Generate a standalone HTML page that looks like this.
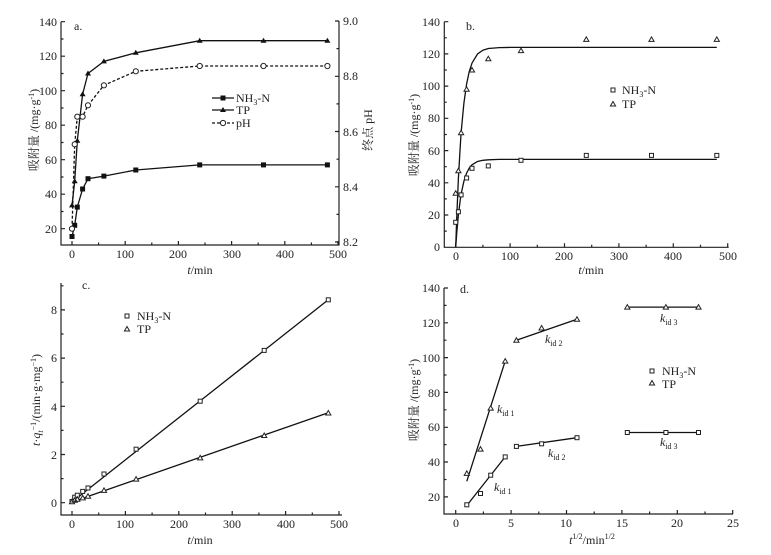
<!DOCTYPE html>
<html><head><meta charset="utf-8"><style>
html,body{margin:0;padding:0;background:#fff}
svg{display:block}
text{font-family:"Liberation Serif","Noto Serif CJK SC",serif;font-size:12px;fill:#222}
.ax{stroke:#222;stroke-width:1.2;fill:none}
.ln{stroke:#111;stroke-width:1.3;fill:none}
.o{fill:#fff;stroke:#222;stroke-width:1}
</style></head><body>
<svg width="771" height="555" viewBox="0 0 771 555" xmlns="http://www.w3.org/2000/svg">
<!-- Panel a -->
<path class="ax" d="M61,21.7V245H339V21"/>
<path class="ax" d="M61,21.7h4M61,56.2h4M61,90.7h4M61,125.2h4M61,159.7h4M61,194.2h4M61,228.7h4M61,39h2.5M61,73.5h2.5M61,108h2.5M61,142.5h2.5M61,177h2.5M61,211.5h2.5
M72,245v-4M125.2,245v-4M178.4,245v-4M231.6,245v-4M284.8,245v-4M338,245v-4M98.6,245v-2.5M151.8,245v-2.5M205,245v-2.5M258.2,245v-2.5M311.4,245v-2.5
M339,21h-4M339,76.3h-4M339,131.5h-4M339,186.8h-4M339,242h-4M339,48.6h-2.5M339,103.9h-2.5M339,159.2h-2.5M339,214.4h-2.5"/>
<g text-anchor="end"><text x="57" y="26">140</text><text x="57" y="60">120</text><text x="57" y="95">100</text><text x="57" y="129">80</text><text x="57" y="164">60</text><text x="57" y="198">40</text><text x="57" y="233">20</text></g>
<g><text x="343" y="25">9.0</text><text x="343" y="80">8.8</text><text x="343" y="136">8.6</text><text x="343" y="191">8.4</text><text x="343" y="246">8.2</text></g>
<g text-anchor="middle"><text x="72" y="258">0</text><text x="125" y="258">100</text><text x="178" y="258">200</text><text x="232" y="258">300</text><text x="285" y="258">400</text><text x="338" y="258">500</text>
<text x="200" y="274"><tspan font-style="italic">t</tspan>/min</text></g>
<text x="74" y="30">a.</text>
<text transform="translate(38,130) rotate(-90)" text-anchor="middle">吸附量 /(mg·g<tspan dy="-4" font-size="8">-1</tspan><tspan dy="4">)</tspan></text>
<text transform="translate(372,130) rotate(-90)" text-anchor="middle">终点 pH</text>
<polyline class="ln" stroke-dasharray="3,2" points="72,228.7 74.7,144.3 77.3,116.7 82.6,116.7 88,105.3 103.9,85.3 135.8,71.3 199.7,66 263.5,66 327.4,66"/>
<polyline class="ln" points="72,236.5 74.7,225.3 77.3,207.1 82.6,189 88,178.7 103.9,176.1 135.8,170 199.7,164.9 263.5,164.9 327.4,164.9"/>
<polyline class="ln" points="72,205.4 74.7,181.3 77.3,140.7 82.6,94.2 88,73.5 103.9,61.4 135.8,52.8 199.7,40.7 263.5,40.7 327.4,40.7"/>
<g fill="#111">
<rect x="69.5" y="234" width="5" height="5"/><rect x="72.2" y="222.8" width="5" height="5"/><rect x="74.8" y="204.6" width="5" height="5"/><rect x="80.1" y="186.5" width="5" height="5"/><rect x="85.5" y="176.2" width="5" height="5"/><rect x="101.4" y="173.6" width="5" height="5"/><rect x="133.3" y="167.5" width="5" height="5"/><rect x="197.2" y="162.4" width="5" height="5"/><rect x="261" y="162.4" width="5" height="5"/><rect x="324.9" y="162.4" width="5" height="5"/>
<path d="M72,202.4l3,5h-6zM74.7,178.3l3,5h-6zM77.3,137.7l3,5h-6zM82.6,91.2l3,5h-6zM88,70.5l3,5h-6zM103.9,58.4l3,5h-6zM135.8,49.8l3,5h-6zM199.7,37.7l3,5h-6zM263.5,37.7l3,5h-6zM327.4,37.7l3,5h-6z"/>
</g>
<g class="o"><circle cx="72" cy="228.7" r="2.6"/><circle cx="74.7" cy="144.3" r="2.6"/><circle cx="77.3" cy="116.7" r="2.6"/><circle cx="82.6" cy="116.7" r="2.6"/><circle cx="88" cy="105.3" r="2.6"/><circle cx="103.9" cy="85.3" r="2.6"/><circle cx="135.8" cy="71.3" r="2.6"/><circle cx="199.7" cy="66" r="2.6"/><circle cx="263.5" cy="66" r="2.6"/><circle cx="327.4" cy="66" r="2.6"/></g>
<path class="ln" d="M212,98h22M212,110h22"/><path class="ln" stroke-dasharray="3,2" d="M212,123h22"/>
<rect x="220.5" y="95.5" width="5" height="5" fill="#111"/><path d="M223,107l3,5h-6z" fill="#111"/><circle class="o" cx="223" cy="123" r="2.6"/>
<text x="236" y="102">NH<tspan font-size="8" dy="3">3</tspan><tspan dy="-3">-N</tspan></text><text x="236" y="114">TP</text><text x="236" y="127">pH</text>

<!-- Panel b -->
<path class="ax" d="M444.3,21.7V247.3H728.7"/>
<path class="ax" d="M444.3,21.7h4M444.3,53.9h4M444.3,86.1h4M444.3,118.3h4M444.3,150.6h4M444.3,182.8h4M444.3,215h4M444.3,37.8h2.5M444.3,70h2.5M444.3,102.2h2.5M444.3,134.5h2.5M444.3,166.7h2.5M444.3,198.9h2.5M444.3,231.1h2.5
M455.7,247.3v-4M510.1,247.3v-4M564.5,247.3v-4M618.9,247.3v-4M673.3,247.3v-4M727.7,247.3v-4M482.9,247.3v-2.5M537.3,247.3v-2.5M591.7,247.3v-2.5M646.1,247.3v-2.5M700.5,247.3v-2.5"/>
<g text-anchor="end"><text x="440" y="26">140</text><text x="440" y="58">120</text><text x="440" y="90">100</text><text x="440" y="122">80</text><text x="440" y="155">60</text><text x="440" y="187">40</text><text x="440" y="219">20</text><text x="440" y="251">0</text></g>
<g text-anchor="middle"><text x="456" y="260">0</text><text x="510" y="260">100</text><text x="564" y="260">200</text><text x="619" y="260">300</text><text x="673" y="260">400</text><text x="728" y="260">500</text>
<text x="591" y="274"><tspan font-style="italic">t</tspan>/min</text></g>
<text x="466" y="30">b.</text>
<text transform="translate(418,135) rotate(-90)" text-anchor="middle">吸附量 /(mg·g<tspan dy="-4" font-size="8">-1</tspan><tspan dy="4">)</tspan></text>
<polyline class="ln" points="455.7,247.3 456.8,216 458.4,178.1 460.1,148.8 461.1,132.7 463.9,103.2 466.6,84 469.3,71.3 472,63.1 477.5,54 482.9,50.2 488.3,48.5 499.2,47.6 510.1,47.4 716.8,47.4"/>
<polyline class="ln" points="455.7,247.3 456.8,232.3 458.4,214.6 460.1,201.2 461.1,194.1 463.9,181.2 466.6,173.1 469.3,168 472,164.8 477.5,161.5 482.9,160.3 488.3,159.8 499.2,159.4 716.8,159.4"/>
<g class="o">
<rect x="453.7" y="220.3" width="4" height="4"/><rect x="456.4" y="209.8" width="4" height="4"/><rect x="459.1" y="192.9" width="4" height="4"/><rect x="464.6" y="176" width="4" height="4"/><rect x="470" y="166.3" width="4" height="4"/><rect x="486.3" y="163.9" width="4" height="4"/><rect x="519" y="158.3" width="4" height="4"/><rect x="584.3" y="153.4" width="4" height="4"/><rect x="649.5" y="153.4" width="4" height="4"/><rect x="714.8" y="153.4" width="4" height="4"/>
<path d="M455.7,190.8l2.6,4.5h-5.2zM458.4,168.2l2.6,4.5h-5.2zM461.1,130.3l2.6,4.5h-5.2zM466.6,86.8l2.6,4.5h-5.2zM472,67.5l2.6,4.5h-5.2zM488.3,56.2l2.6,4.5h-5.2zM521,48.1l2.6,4.5h-5.2zM586.3,36.9l2.6,4.5h-5.2zM651.5,36.9l2.6,4.5h-5.2zM716.8,36.9l2.6,4.5h-5.2z"/>
<rect x="611" y="88" width="4" height="4"/><path d="M613,101.5l2.6,4.5h-5.2z"/>
</g>
<text x="622" y="94">NH<tspan font-size="8" dy="3">3</tspan><tspan dy="-3">-N</tspan></text><text x="622" y="108">TP</text>

<!-- Panel c -->
<path class="ax" d="M61,283V515H342"/>
<path class="ax" d="M61,502.7h4M61,454.5h4M61,406.3h4M61,358.1h4M61,309.9h4M61,478.6h2.5M61,430.4h2.5M61,382.2h2.5M61,334h2.5M61,285.8h2.5
M72,515v-4M125.4,515v-4M178.8,515v-4M232.2,515v-4M285.6,515v-4M339,515v-4M98.7,515v-2.5M152.1,515v-2.5M205.5,515v-2.5M258.9,515v-2.5M312.3,515v-2.5"/>
<g text-anchor="end"><text x="57" y="507">0</text><text x="57" y="459">2</text><text x="57" y="411">4</text><text x="57" y="362">6</text><text x="57" y="314">8</text></g>
<g text-anchor="middle"><text x="72" y="528">0</text><text x="125" y="528">100</text><text x="179" y="528">200</text><text x="232" y="528">300</text><text x="286" y="528">400</text><text x="339" y="528">500</text>
<text x="200" y="544"><tspan font-style="italic">t</tspan>/min</text></g>
<text x="82" y="289">c.</text>
<text transform="translate(40,400) rotate(-90)" text-anchor="middle"><tspan font-style="italic">t</tspan>·<tspan font-style="italic">q</tspan><tspan font-style="italic" font-size="8" dy="3">t</tspan><tspan font-size="8" dy="-7">−1</tspan><tspan dy="4">/(min·g·mg</tspan><tspan dy="-4" font-size="8">−1</tspan><tspan dy="4">)</tspan></text>
<path class="ln" d="M72,502L328.3,299.8M72,502L328.3,412.7"/>
<g class="o">
<rect x="70" y="499.5" width="4" height="4"/><rect x="72.7" y="495.2" width="4" height="4"/><rect x="75.3" y="493.2" width="4" height="4"/><rect x="80.7" y="489.4" width="4" height="4"/><rect x="86" y="486" width="4" height="4"/><rect x="102" y="472" width="4" height="4"/><rect x="134.1" y="447.2" width="4" height="4"/><rect x="198.2" y="399.2" width="4" height="4"/><rect x="262.2" y="348.4" width="4" height="4"/><rect x="326.3" y="297.8" width="4" height="4"/>
<path d="M72,499.2l2.6,4.5h-5.2zM74.7,497.7l2.6,4.5h-5.2zM77.3,496.8l2.6,4.5h-5.2zM82.7,495.4l2.6,4.5h-5.2zM88,493.7l2.6,4.5h-5.2zM104,487.9l2.6,4.5h-5.2zM136.1,476.6l2.6,4.5h-5.2zM200.2,455.4l2.6,4.5h-5.2zM264.2,433l2.6,4.5h-5.2zM328.3,410.5l2.6,4.5h-5.2z"/>
<rect x="125" y="314" width="4" height="4"/><path d="M127,326.5l2.6,4.5h-5.2z"/>
</g>
<text x="137" y="320">NH<tspan font-size="8" dy="3">3</tspan><tspan dy="-3">-N</tspan></text><text x="137" y="333">TP</text>

<!-- Panel d -->
<path class="ax" d="M444,288V514H733"/>
<path class="ax" d="M444,288h4M444,322.8h4M444,357.6h4M444,392.4h4M444,427.3h4M444,462h4M444,496.9h4M444,305.4h2.5M444,340.2h2.5M444,375h2.5M444,409.8h2.5M444,444.6h2.5M444,479.5h2.5
M455.7,514v-4M511.1,514v-4M566.5,514v-4M621.9,514v-4M677.3,514v-4M732.7,514v-4M483.4,514v-2.5M538.8,514v-2.5M594.2,514v-2.5M649.6,514v-2.5M705,514v-2.5"/>
<g text-anchor="end"><text x="440" y="292">140</text><text x="440" y="327">120</text><text x="440" y="362">100</text><text x="440" y="397">80</text><text x="440" y="431">60</text><text x="440" y="466">40</text><text x="440" y="501">20</text></g>
<g text-anchor="middle"><text x="456" y="527">0</text><text x="511" y="527">5</text><text x="566" y="527">10</text><text x="622" y="527">15</text><text x="677" y="527">20</text><text x="733" y="527">25</text>
<text x="592" y="544"><tspan font-style="italic">t</tspan><tspan font-size="8" dy="-5">1/2</tspan><tspan dy="5">/min</tspan><tspan font-size="8" dy="-5">1/2</tspan></text></g>
<text x="460" y="293">d.</text>
<text transform="translate(418,400) rotate(-90)" text-anchor="middle">吸附量 /(mg·g<tspan dy="-4" font-size="8">-1</tspan><tspan dy="4">)</tspan></text>
<path class="ln" d="M466.8,481.3L505.2,361.1M516.4,340.2L577,319.3M627.3,307.1H698.5M466.8,505.5L505.2,456.9M516.4,446.4L577,437.7M627.3,432.5H698.5"/>
<g class="o">
<rect x="464.8" y="502.8" width="4" height="4"/><rect x="478.5" y="491.5" width="4" height="4"/><rect x="488.7" y="473.2" width="4" height="4"/><rect x="503.2" y="454.9" width="4" height="4"/><rect x="514.4" y="444.4" width="4" height="4"/><rect x="539.6" y="441.8" width="4" height="4"/><rect x="575" y="435.7" width="4" height="4"/><rect x="625.3" y="430.5" width="4" height="4"/><rect x="663.9" y="430.5" width="4" height="4"/><rect x="696.5" y="430.5" width="4" height="4"/>
<path d="M466.8,470.9l2.6,4.5h-5.2zM480.5,446.6l2.6,4.5h-5.2zM490.7,405.6l2.6,4.5h-5.2zM505.2,358.6l2.6,4.5h-5.2zM516.4,337.7l2.6,4.5h-5.2zM541.6,325.5l2.6,4.5h-5.2zM577,316.8l2.6,4.5h-5.2zM627.3,304.6l2.6,4.5h-5.2zM665.9,304.6l2.6,4.5h-5.2zM698.5,304.6l2.6,4.5h-5.2z"/>
<rect x="650" y="369" width="4" height="4"/><path d="M652,380.5l2.6,4.5h-5.2z"/>
</g>
<text x="662" y="375">NH<tspan font-size="8" dy="3">3</tspan><tspan dy="-3">-N</tspan></text><text x="662" y="388">TP</text>
<g>
<text x="497" y="413"><tspan font-style="italic">k</tspan><tspan font-size="8" dy="3">id 1</tspan></text>
<text x="545" y="343"><tspan font-style="italic">k</tspan><tspan font-size="8" dy="3">id 2</tspan></text>
<text x="660" y="322"><tspan font-style="italic">k</tspan><tspan font-size="8" dy="3">id 3</tspan></text>
<text x="494" y="491"><tspan font-style="italic">k</tspan><tspan font-size="8" dy="3">id 1</tspan></text>
<text x="548" y="457"><tspan font-style="italic">k</tspan><tspan font-size="8" dy="3">id 2</tspan></text>
<text x="660" y="446"><tspan font-style="italic">k</tspan><tspan font-size="8" dy="3">id 3</tspan></text>
</g>
</svg>
</body></html>
